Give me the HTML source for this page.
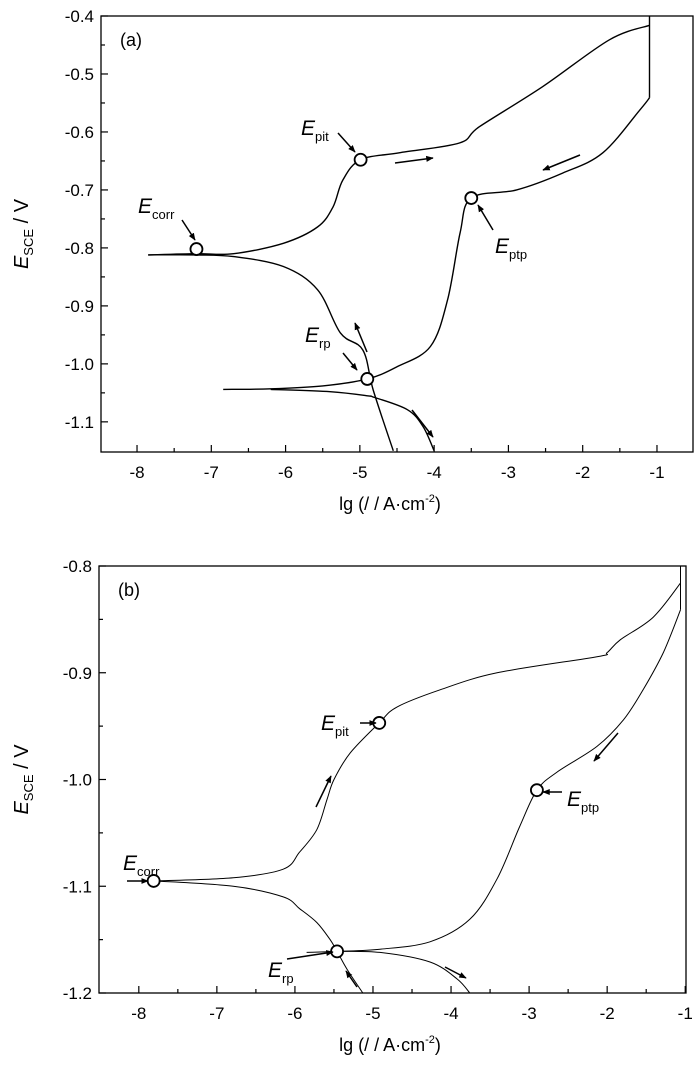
<!DOCTYPE html>
<html><head><meta charset="utf-8"><style>
body{margin:0;background:#fff}
svg{display:block;font-family:"Liberation Sans",Arial,sans-serif}
</style></head><body>
<svg id="chart" width="700" height="1066" viewBox="0 0 700 1066" xmlns="http://www.w3.org/2000/svg">
<defs><marker id="ah" viewBox="0 0 10 10" refX="9" refY="5" markerWidth="5" markerHeight="5" orient="auto"><path d="M0,1 L10,5 L0,9 z" fill="#000"/></marker></defs>
</svg>
<script>
// ---- Panel (a) data ----
const aXTicks=[-8,-7,-6,-5,-4,-3,-2,-1];
const aYTicks=[-0.4,-0.5,-0.6,-0.7,-0.8,-0.9,-1.0,-1.1];
const aYTickLabels=["-0.4","-0.5","-0.6","-0.7","-0.8","-0.9","-1.0","-1.1"];
const aAnodicX=[-7.85,-7.2,-6.7,-6.03,-5.57,-5.36,-5.23,-4.99,-4.47,-3.66,-3.39,-2.54,-1.64,-1.1];
const aAnodicY=[-0.812,-0.81,-0.81,-0.792,-0.764,-0.729,-0.683,-0.648,-0.636,-0.619,-0.591,-0.522,-0.441,-0.416];
const aVertX=[-1.1,-1.1];
const aVertY=[-0.4,-0.541];
const aReverseX=[-1.1,-1.23,-1.73,-2.27,-2.89,-3.5,-3.65,-3.82,-4.05,-4.5,-4.9,-5.5,-6.2,-6.84];
const aReverseY=[-0.541,-0.562,-0.636,-0.671,-0.70,-0.714,-0.774,-0.89,-0.97,-1.005,-1.026,-1.038,-1.043,-1.044];
const aCathodicX=[-7.85,-7.2,-6.7,-6.03,-5.57,-5.26,-4.96,-4.82,-4.55];
const aCathodicY=[-0.812,-0.812,-0.815,-0.832,-0.872,-0.947,-0.976,-1.045,-1.15];
const aCath2X=[-6.2,-5.4,-4.9,-4.8,-4.36,-4.15,-4.0];
const aCath2Y=[-1.044,-1.048,-1.055,-1.058,-1.079,-1.108,-1.15];
const aMarkX=[-7.2,-4.99,-3.5,-4.9];
const aMarkY=[-0.802,-0.648,-0.714,-1.026];
// ---- Panel (b) data ----
const bXTicks=[-8,-7,-6,-5,-4,-3,-2,-1];
const bYTicks=[-0.8,-0.9,-1.0,-1.1,-1.2];
const bYTickLabels=["-0.8","-0.9","-1.0","-1.1","-1.2"];
const bAnodicX=[-7.81,-6.79,-6.15,-5.94,-5.72,-5.59,-5.5,-5.29,-4.92,-4.69,-4.14,-3.41,-2.13,-2.0,-1.83,-1.41,-1.06];
const bAnodicY=[-1.095,-1.092,-1.084,-1.068,-1.047,-1.019,-1.0,-0.975,-0.947,-0.932,-0.916,-0.9,-0.885,-0.881,-0.869,-0.848,-0.816];
const bVertX=[-1.06,-1.06];
const bVertY=[-0.8,-0.841];
const bReverseX=[-1.06,-1.28,-1.54,-1.79,-2.13,-2.64,-2.9,-3.12,-3.41,-3.76,-4.27,-4.91,-5.46,-5.85];
const bReverseY=[-0.841,-0.881,-0.916,-0.944,-0.969,-0.993,-1.01,-1.044,-1.093,-1.131,-1.152,-1.159,-1.161,-1.162];
const bCathodicX=[-7.81,-6.79,-6.15,-5.94,-5.72,-5.55,-5.46,-5.33,-5.13];
const bCathodicY=[-1.095,-1.1,-1.11,-1.121,-1.134,-1.15,-1.161,-1.178,-1.2];
const bCath2X=[-5.46,-4.91,-4.27,-3.92,-3.76];
const bCath2Y=[-1.161,-1.162,-1.171,-1.187,-1.2];
const bMarkX=[-7.81,-4.92,-2.9,-5.46];
const bMarkY=[-1.095,-0.947,-1.01,-1.161];

const svg=document.getElementById('chart');
const NS="http://www.w3.org/2000/svg";
function mk(tag,attrs,parent){const e=document.createElementNS(NS,tag);for(const k in attrs)e.setAttribute(k,attrs[k]);(parent||svg).appendChild(e);return e;}
function smooth(pts){
  let d='M'+pts[0][0].toFixed(1)+','+pts[0][1].toFixed(1);
  for(let i=0;i<pts.length-1;i++){
    const p0=pts[i-1]||pts[i],p1=pts[i],p2=pts[i+1],p3=pts[i+2]||p2;
    const c1=[p1[0]+(p2[0]-p0[0])/6,p1[1]+(p2[1]-p0[1])/6];
    const c2=[p2[0]-(p3[0]-p1[0])/6,p2[1]-(p3[1]-p1[1])/6];
    d+=' C'+c1[0].toFixed(1)+','+c1[1].toFixed(1)+' '+c2[0].toFixed(1)+','+c2[1].toFixed(1)+' '+p2[0].toFixed(1)+','+p2[1].toFixed(1);
  }
  return d;
}

function panel(cfg){
  const g=mk('g',{});
  
  
  const sx=v=>cfg.L+(v-cfg.x0)/(cfg.x1-cfg.x0)*(cfg.R-cfg.L);
  const sy=v=>cfg.T+(cfg.y0-v)/(cfg.y0-cfg.y1)*(cfg.B-cfg.T);
  const frame=mk('rect',{x:cfg.L,y:cfg.T,width:cfg.R-cfg.L,height:cfg.B-cfg.T,fill:'none',stroke:'#000','stroke-width':1.3},g);
  
  
  cfg.xt.forEach((t,i)=>{
    const x=sx(t);
    const tk=mk('line',{x1:x,x2:x,y1:cfg.B,y2:cfg.B-7,stroke:'#000','stroke-width':1.2},g);
    
    
    const mx=sx(t+0.5);
    if(mx<cfg.R-2){const m=mk('line',{x1:mx,x2:mx,y1:cfg.B,y2:cfg.B-4,stroke:'#000','stroke-width':1.2},g);
      
      }
    const tx=mk('text',{x:x,y:cfg.B+26,'font-size':17,'text-anchor':'middle'},g);
    tx.textContent=String(t);
    
    
  });
  const sm=sx(cfg.xt[0]-0.5);
  if(sm>cfg.L+2){const m=mk('line',{x1:sm,x2:sm,y1:cfg.B,y2:cfg.B-4,stroke:'#000','stroke-width':1.2},g);
    
    }
  cfg.yt.forEach((t,i)=>{
    const y=sy(t);
    const tk=mk('line',{x1:cfg.L,x2:cfg.L+7,y1:y,y2:y,stroke:'#000','stroke-width':1.2},g);
    
    
    const my=sy(t-0.05);
    if(my<cfg.B-2){const m=mk('line',{x1:cfg.L,x2:cfg.L+4,y1:my,y2:my,stroke:'#000','stroke-width':1.2},g);
      
      }
    const tx=mk('text',{x:cfg.L-7,y:y+6,'font-size':17,'text-anchor':'end'},g);
    tx.textContent=cfg.ytl[i];
    
    
  });
  cfg.series.forEach(s=>{
    const pts=s.x.map((v,i)=>[sx(v),sy(s.y[i])]);
    const p=mk('path',{d:smooth(pts),fill:'none',stroke:'#000','stroke-width':cfg.sw,'stroke-linejoin':'round'},g);
    
    
  });
  cfg.mx.forEach((v,i)=>{
    const c=mk('circle',{cx:sx(v),cy:sy(cfg.my[i]),r:6,fill:'#fff',stroke:'#000','stroke-width':1.8},g);
    
    
  });
  cfg.arrows.forEach(a=>{
    const l=mk('line',{x1:a[0],y1:a[1],x2:a[2],y2:a[3],stroke:'#000','stroke-width':1.5,'marker-end':'url(#ah)'},g);
    
    
  });
  cfg.labels.forEach(l=>{
    const t=mk('text',{x:l[0],y:l[1],'font-size':21},g);
    const e=mk('tspan',{'font-style':'italic'},t);e.textContent='E';
    const s=mk('tspan',{'font-size':13,dy:6},t);s.textContent=l[2];
    
    
  });
  const pl=mk('text',{x:cfg.L+19,y:cfg.T+30,'font-size':18},g);
  pl.textContent=cfg.tag;
  
  
  const yl=mk('text',{transform:`translate(28,${(cfg.T+cfg.B)/2}) rotate(-90)`,'font-size':20,'text-anchor':'middle'},g);
  const ye=mk('tspan',{'font-style':'italic'},yl);ye.textContent='E';
  const ys=mk('tspan',{'font-size':13,dy:5},yl);ys.textContent='SCE';
  const yv=mk('tspan',{dy:-5},yl);yv.textContent=' / V';
  
  
  const xl=mk('text',{x:cfg.xc,y:cfg.B+58,'font-size':18,'text-anchor':'middle'},g);
  const a1=mk('tspan',{},xl);a1.textContent='lg (/ / A·cm';
  const a2=mk('tspan',{'font-size':11,dy:-8},xl);a2.textContent='-2';
  const a3=mk('tspan',{dy:8},xl);a3.textContent=')';
  
  
}

panel({name:'panel-a',tag:'(a)',L:101,R:693,T:16,B:452,x0:-8.485,x1:-0.515,y0:-0.4,y1:-1.152,xc:390,
  xt:aXTicks,yt:aYTicks,ytl:aYTickLabels,sw:1.4,
  series:[{name:'anodic-forward-scan',x:aAnodicX,y:aAnodicY},{name:'vertical-limit',x:aVertX,y:aVertY},{name:'reverse-scan',x:aReverseX,y:aReverseY},
          {name:'cathodic-branch',x:aCathodicX,y:aCathodicY},{name:'cathodic-branch-reverse',x:aCath2X,y:aCath2Y}],
  mx:aMarkX,my:aMarkY,
  arrows:[[182,220,195,240],[338,133,355,152],[493,230,478,205],[343,353,357,370],[395,163,433,158],[580,155,543,170],[367,352,355,323],[412,410,433,437]],
  labels:[[138,213,'corr'],[301,135,'pit'],[495,253,'ptp'],[305,342,'rp']]});
panel({name:'panel-b',tag:'(b)',L:99,R:686,T:566,B:993,x0:-8.51,x1:-0.99,y0:-0.8,y1:-1.2,xc:390,
  xt:bXTicks,yt:bYTicks,ytl:bYTickLabels,sw:1,
  series:[{name:'anodic-forward-scan',x:bAnodicX,y:bAnodicY},{name:'vertical-limit',x:bVertX,y:bVertY},{name:'reverse-scan',x:bReverseX,y:bReverseY},
          {name:'cathodic-branch',x:bCathodicX,y:bCathodicY},{name:'cathodic-branch-reverse',x:bCath2X,y:bCath2Y}],
  mx:bMarkX,my:bMarkY,
  arrows:[[127,881,148,881],[360,723,376,723],[562,792,543,792],[287,959,333,952],[316,807,331,776],[357,987,346,971],[445,967,466,978],[618,733,594,761]],
  labels:[[123,870,'corr'],[321,730,'pit'],[567,806,'ptp'],[268,977,'rp']]});
</script>
</body></html>
